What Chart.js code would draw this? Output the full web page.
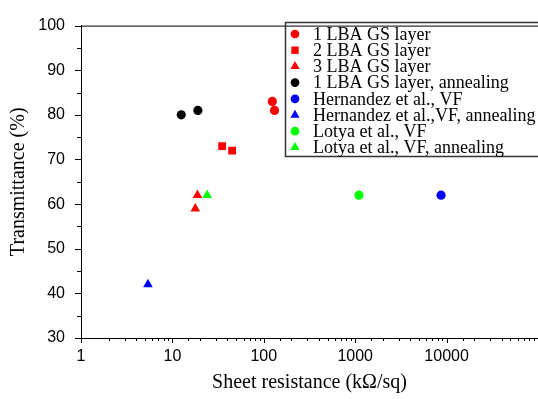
<!DOCTYPE html>
<html>
<head>
<meta charset="utf-8">
<title>Transmittance vs sheet resistance</title>
<script src="https://cdn.jsdelivr.net/npm/chart.js@4/dist/chart.umd.min.js"></script>
<style>
  html, body { margin: 0; padding: 0; background: #fff; }
  #graph1 { display: block; }
</style>
</head>
<body>
<canvas id="graph1" width="538" height="399"></canvas>
<script>
// values (x = sheet resistance in kOhm/sq, y = transmittance in %)
const lba1X = [124, 131];
const lba1Y = [83, 81];
const lba2X = [35, 45];
const lba2Y = [73, 72];
const lba3X = [18.8, 17.8];
const lba3Y = [62, 59];
const lba1AnnX = [12.5, 19];
const lba1AnnY = [80, 81];
const hernVfX = [8700];
const hernVfY = [62];
const hernVfAnnX = [5.4];
const hernVfAnnY = [42];
const lotyaVfX = [1100];
const lotyaVfY = [62];
const lotyaVfAnnX = [24];
const lotyaVfAnnY = [62];

const seriesLabels = [
    "1 LBA GS layer",
    "2 LBA GS layer",
    "3 LBA GS layer",
    "1 LBA GS layer, annealing",
    "Hernandez et al., VF",
    "Hernandez et al.,VF, annealing",
    "Lotya et al., VF",
    "Lotya et al., VF, annealing"
];
const xTickLabels = [1, 10, 100, 1000, 10000];
const yTickLabels = [30, 40, 50, 60, 70, 80, 90, 100];

function pts(xs, ys) {
    return xs.map((x, i) => ({ x: x, y: ys[i] }));
}

function makeSet(label, xs, ys, color, style) {
    let r = 4.6;
    if (style === "rect") r = 5.5;
    if (style === "triangle") r = 5.6;
    return {
        label: label,
        data: pts(xs, ys),
        backgroundColor: color,
        borderColor: color,
        borderWidth: 0,
        pointStyle: style,
        pointRadius: r,
        pointHoverRadius: r
    };
}

// draws the tick marks (major + minor), the top frame line and the boxed legend
const frameAndLegend = {
    id: "frameAndLegend",
    afterDraw(chart) {
        const ctx = chart.ctx;
        const area = chart.chartArea;
        const xs = chart.scales.x;
        const ys = chart.scales.y;
        ctx.save();
        ctx.strokeStyle = "#000";
        ctx.lineWidth = 1;
        ctx.beginPath();
        // top frame
        ctx.moveTo(area.left, area.top + 0.5);
        ctx.lineTo(area.right, area.top + 0.5);
        // x ticks
        xs.ticks.forEach(t => {
            const px = Math.round(xs.getPixelForValue(t.value)) + 0.5;
            const major = xTickLabels.indexOf(t.value) >= 0 || t.value === 100000;
            ctx.moveTo(px, area.bottom);
            ctx.lineTo(px, area.bottom + (major ? 5 : 3));
        });
        // y ticks
        ys.ticks.forEach(t => {
            const py = Math.round(ys.getPixelForValue(t.value)) + 0.5;
            const major = t.value % 10 === 0;
            ctx.moveTo(area.left, py);
            ctx.lineTo(area.left - (major ? 6 : 4), py);
        });
        ctx.stroke();

        // legend (box runs off the right edge of the canvas, like the original)
        const boxX = 285.5, boxY = 22.5, boxW = 300, boxH = 134;
        ctx.strokeStyle = "#333";
        ctx.lineWidth = 1.5;
        ctx.beginPath();
        ctx.moveTo(boxX + boxW, boxY);
        ctx.lineTo(boxX, boxY);
        ctx.lineTo(boxX, boxY + boxH);
        ctx.lineTo(boxX + boxW, boxY + boxH);
        ctx.stroke();
        ctx.font = '18px "Liberation Serif", "Times New Roman", serif';
        ctx.textBaseline = "middle";
        ctx.textAlign = "left";
        chart.data.datasets.forEach((ds, i) => {
            const ly = 34 + i * 16.2;
            ctx.fillStyle = ds.backgroundColor;
            Chart.helpers.drawPoint(ctx, {
                pointStyle: ds.pointStyle,
                radius: ds.pointRadius * 0.95,
                borderWidth: 0
            }, 295, ly);
            ctx.fillStyle = "#000";
            ctx.fillText(ds.label, 313, ly + 1);
        });
        ctx.restore();
    }
};

const g1 = new Chart("graph1", {
    type: "scatter",
    data: {
        datasets: [
            makeSet(seriesLabels[0], lba1X, lba1Y, "#ff0000", "circle"),
            makeSet(seriesLabels[1], lba2X, lba2Y, "#ff0000", "rect"),
            makeSet(seriesLabels[2], lba3X, lba3Y, "#ff0000", "triangle"),
            makeSet(seriesLabels[3], lba1AnnX, lba1AnnY, "#000000", "circle"),
            makeSet(seriesLabels[4], hernVfX, hernVfY, "#0000ff", "circle"),
            makeSet(seriesLabels[5], hernVfAnnX, hernVfAnnY, "#0000ff", "triangle"),
            makeSet(seriesLabels[6], lotyaVfX, lotyaVfY, "#00ff00", "circle"),
            makeSet(seriesLabels[7], lotyaVfAnnX, lotyaVfAnnY, "#00ff00", "triangle")
        ]
    },
    options: {
        responsive: false,
        animation: false,
        devicePixelRatio: 1,
        layout: {
            autoPadding: false,
            padding: { top: 16, right: 0, bottom: 0, left: 0 }
        },
        plugins: {
            legend: { display: false },
            tooltip: { enabled: false }
        },
        scales: {
            x: {
                type: "logarithmic",
                min: 1,
                max: 100000,
                grid: { display: false, drawTicks: false },
                border: { display: true, color: "#000", width: 1 },
                ticks: {
                    autoSkip: false,
                    maxRotation: 0,
                    padding: 9,
                    color: "#000",
                    font: { family: '"Liberation Sans", Arial, sans-serif', size: 16 },
                    callback: function(v) {
                        return xTickLabels.indexOf(v) >= 0 ? String(v) : "";
                    }
                },
                title: {
                    display: true,
                    text: "Sheet resistance (k\u03A9/sq)",
                    color: "#000",
                    font: { family: '"Liberation Serif", "Times New Roman", serif', size: 20 },
                    padding: { top: 0, bottom: 4 }
                },
                afterFit: function(s) {
                    s.height = 61;
                    s.paddingRight = 0;
                }
            },
            y: {
                min: 30,
                max: 100,
                grid: { display: false, drawTicks: false },
                border: { display: true, color: "#000", width: 1 },
                ticks: {
                    stepSize: 5,
                    autoSkip: false,
                    padding: 16,
                    color: "#000",
                    font: { family: '"Liberation Sans", Arial, sans-serif', size: 16 },
                    callback: function(v) {
                        return yTickLabels.indexOf(v) >= 0 ? String(v) : "";
                    }
                },
                title: {
                    display: true,
                    text: "Transmittance (%)",
                    color: "#000",
                    font: { family: '"Liberation Serif", "Times New Roman", serif', size: 20 },
                    padding: { top: 7, bottom: 0 }
                },
                afterFit: function(s) { s.width = 81; }
            }
        }
    },
    plugins: [frameAndLegend]
});
</script>
</body>
</html>
